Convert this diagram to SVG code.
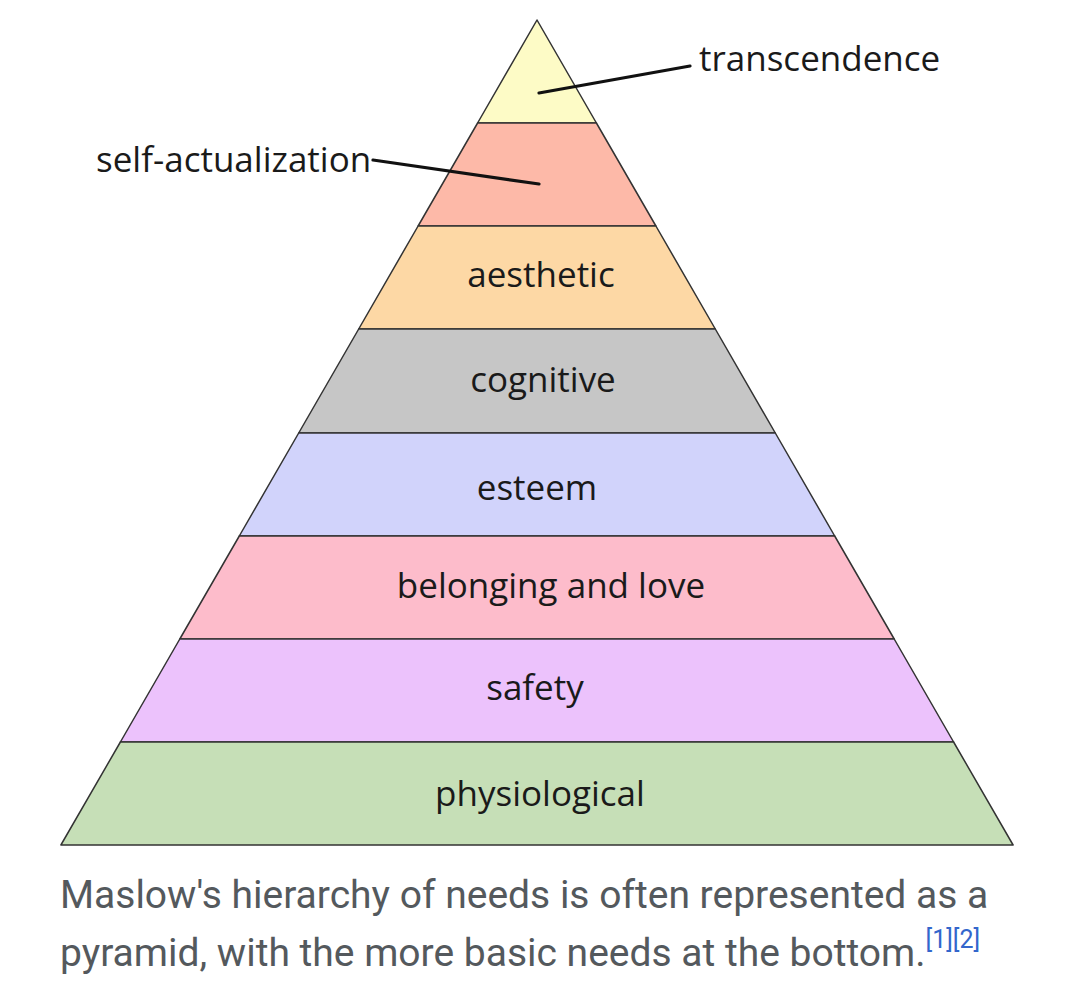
<svg xmlns="http://www.w3.org/2000/svg" width="1080" height="993" viewBox="0 0 1080 993">
<style>
.band{stroke:#333;stroke-width:1.5;stroke-linejoin:round}
.lbl{font-family:"Open Sans","Noto Sans","Liberation Sans",sans-serif;font-size:35px;fill:#1a1a1a;text-anchor:middle}
.side{font-family:"Open Sans","Noto Sans","Liberation Sans",sans-serif;font-size:35px;fill:#1a1a1a}
.lead{stroke:#111;stroke-width:3.2;fill:none;stroke-linecap:round}
.cap{font-family:Roboto,"Liberation Sans",sans-serif;font-size:39px;fill:#54595d}
.ref{font-family:Roboto,"Liberation Sans",sans-serif;font-size:25px;fill:#3366cc}
</style>
<rect width="1080" height="993" fill="#fff"/>
<g id="transcendence"><polygon class="band" fill="#fdfbc6" points="537,20 596.4,123 477.6,123"/></g>
<g id="self-actualization"><polygon class="band" fill="#fdb9a8" points="477.6,123 596.4,123 655.9,226 418.1,226"/></g>
<g id="aesthetic"><polygon class="band" fill="#fdd8a5" points="418.1,226 655.9,226 715.3,329 358.7,329"/><text class="lbl" x="541" y="287">aesthetic</text></g>
<g id="cognitive"><polygon class="band" fill="#c6c6c6" points="358.7,329 715.3,329 775.3,433 298.7,433"/><text class="lbl" x="543" y="392">cognitive</text></g>
<g id="esteem"><polygon class="band" fill="#d1d3fb" points="298.7,433 775.3,433 834.7,536 239.3,536"/><text class="lbl" x="537" y="500">esteem</text></g>
<g id="belonging"><polygon class="band" fill="#fdbccb" points="239.3,536 834.7,536 894.2,639 179.8,639"/><text class="lbl" x="551" y="598">belonging and love</text></g>
<g id="safety"><polygon class="band" fill="#ecc2fc" points="179.8,639 894.2,639 953.6,742 120.4,742"/><text class="lbl" x="535" y="700">safety</text></g>
<g id="physiological"><polygon class="band" fill="#c6dfb7" points="120.4,742 953.6,742 1013.1,845 60.9,845"/><text class="lbl" x="540" y="806">physiological</text></g>
<g id="connectors">
<line class="lead" x1="539" y1="93" x2="690" y2="66"/>
<line class="lead" x1="373" y1="160" x2="539" y2="184"/>
</g>
<g id="side-labels">
<text class="side" x="699" y="71">transcendence</text>
<text class="side" x="96" y="172">self-actualization</text>
</g>
<g id="caption">
<text class="cap" x="60" y="908">Maslow's hierarchy of needs is often represented as a</text>
<text class="cap" x="60" y="966">pyramid, with the more basic needs at the bottom.<tspan class="ref" dy="-18">[1][2]</tspan></text>
</g>
</svg>
